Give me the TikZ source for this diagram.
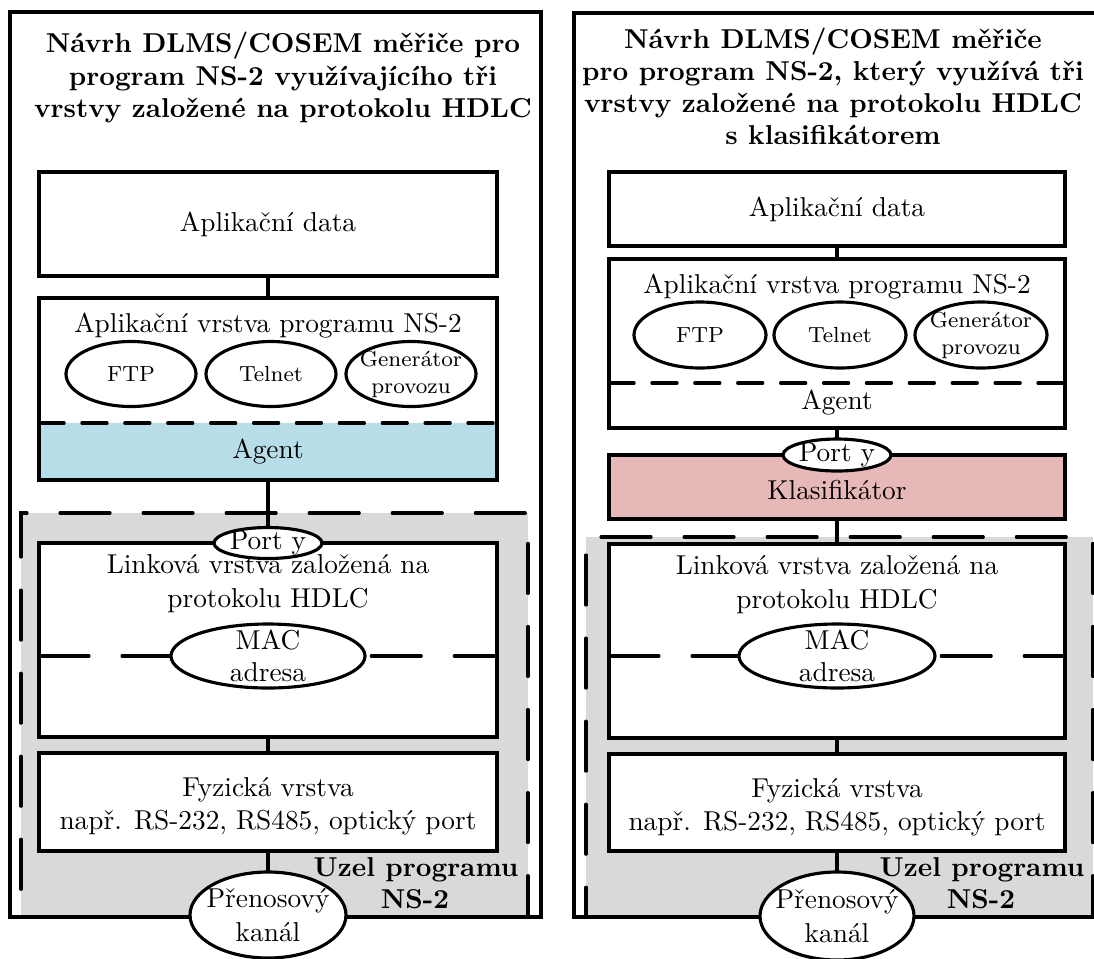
\documentclass[tikz,border=0pt]{standalone}
\usetikzlibrary{shapes.geometric,fit}
\definecolor{agentblue}{HTML}{B7DEE8}
\definecolor{klaspink}{HTML}{E6B8B7}
\definecolor{nodegray}{HTML}{D9D9D9}
\tikzset{
  lw/.style={line width=1.15pt},
  frame/.style={draw, lw, inner sep=0, outer sep=0},
  layer/.style={draw, lw, fill=white, inner sep=0, outer sep=0},
  region/.style={fill=nodegray, draw, lw, line cap=round, dash pattern=on 18.3pt off 12.1pt, inner sep=0, outer sep=0},
  split/.style={lw, line cap=round, dash pattern=on 9.2pt off 6.5pt},
  longsplit/.style={lw, line cap=round, dash pattern=on 18.3pt off 12.1pt},
  oval/.style 2 args={ellipse, draw, lw, fill=white, inner sep=0, outer sep=0,
    minimum width=#1*0.366pt, minimum height=#2*0.366pt},
  txt/.style={anchor=base, inner sep=0, font=\fontsize{10}{12}\selectfont},
  ttl/.style={anchor=base, inner sep=0, font=\fontsize{10}{12}\selectfont\bfseries},
  lbl/.style={inner sep=0, align=center, font=\fontsize{10}{12}\selectfont},
  sm/.style={inner sep=0, align=center, font=\fontsize{8}{9.9}\selectfont},
  conn/.style={lw},
}
\begin{document}
\begin{tikzpicture}[x=0.366pt, y=-0.366pt]
\useasboundingbox (0,0) rectangle (1094,958);
\clip (0,0) rectangle (1094,958);

% ---------------- left stack: three layers over HDLC ----------------
\node[region, fit={(21,513)(528,917)}] (lnode) {};
\node[layer, fit={(39,172)(497,276)}] (ldata) {};
\node[lbl] (ldatat) at (ldata) {Aplikační data};
\node[fill=agentblue, inner sep=0, outer sep=0, fit={(39,423)(497,480)}] (lagent) {};
\node[layer, fill=none, fit={(39,298)(497,480)}] (lapp) {};
\draw[split] (lapp.west |- lagent.north) -- (lapp.east |- lagent.north);
\node[lbl] (lagentt) at (268,452) {Agent};
\node[txt] (lappt) at (268,332) {Aplikační vrstva programu NS-2};

\node[layer, fit={(39,543)(497,737)}] (llink) {};
\node[txt] (llinkt1) at (268,573) {Linková vrstva založená na};
\node[txt] (llinkt2) at (268,607) {protokolu HDLC};
\coordinate (lmacc) at (268,656);
\draw[longsplit] (llink.west |- lmacc) -- (llink.east |- lmacc);

\node[layer, fit={(39,753)(497,851)}] (lphys) {};
\node[txt] (lphyst1) at (268,796) {Fyzická vrstva};
\node[txt] (lphyst2) at (268,829) {např. RS-232, RS485, optický port};

\node[frame, fit={(10,12)(541,917)}] (lframe) {};
\node[ttl] (ltitle1) at (283,52) {Návrh DLMS/COSEM měřiče pro};
\node[ttl] (ltitle2) at (283,85) {program NS-2 využívajícího tři};
\node[ttl] (ltitle3) at (283,117) {vrstvy založené na protokolu HDLC};
\node[ttl] (lnodet1) at (416,876) {Uzel programu};
\node[ttl] (lnodet2) at (415,908) {NS-2};

\node[oval={130}{65}] (lftp) at (131,374) {};
\node[sm] at (lftp) {FTP};
\node[oval={130}{65}] (ltel) at (271,374) {};
\node[sm] at (ltel) {Telnet};
\node[oval={130}{65}] (lgen) at (411,374) {};
\node[sm] at (lgen) {Generátor\\provozu};
\node[oval={108}{31}] (lport) at (268,543) {};
\node[lbl] at (lport) {Port y};
\node[oval={194}{64}] (lmac) at (lmacc) {};
\node[lbl, font=\fontsize{10}{11.7}\selectfont] at (lmac) {MAC\\adresa};
\node[oval={156}{86}] (lchan) at (268,915) {};
\node[lbl, font=\fontsize{10}{12.4}\selectfont] at (lchan) {Přenosový\\kanál};

\draw[conn] (ldata.south) -- (lapp.north);
\draw[conn] (lapp.south) -- (lport.north);
\draw[conn] (llink.south) -- (lphys.north);
\draw[conn] (lphys.south) -- (lchan.north);

% ---------------- right stack: with classifier ----------------
\node[region, fit={(586,537)(1093,917)}] (rnode) {};
\node[layer, fit={(609,172)(1065,246)}] (rdata) {};
\node[lbl] (rdatat) at (rdata) {Aplikační data};
\node[layer, fit={(609,259)(1065,428)}] (rapp) {};
\coordinate (rsplit) at (837,383);
\draw[split] (rapp.west |- rsplit) -- (rapp.east |- rsplit);
\node[txt] (rappt) at (837,293) {Aplikační vrstva programu NS-2};
\node[lbl] (ragentt) at (837,403) {Agent};
\node[layer, fill=klaspink, fit={(609,455)(1065,519)}] (rklas) {};
\node[lbl] (rklast) at (837,490) {Klasifikátor};

\node[layer, fit={(609,544)(1065,738)}] (rlink) {};
\node[txt] (rlinkt1) at (837,574) {Linková vrstva založená na};
\node[txt] (rlinkt2) at (837,608) {protokolu HDLC};
\coordinate (rmacc) at (837,656);
\draw[longsplit] (rlink.west |- rmacc) -- (rlink.east |- rmacc);

\node[layer, fit={(609,754)(1065,851)}] (rphys) {};
\node[txt] (rphyst1) at (837,797) {Fyzická vrstva};
\node[txt] (rphyst2) at (837,830) {např. RS-232, RS485, optický port};

\node[frame, fit={(574,13)(1110,917)}] (rframe) {};
\node[ttl] (rtitle1) at (833,48) {Návrh DLMS/COSEM měřiče};
\node[ttl] (rtitle2) at (833,80) {pro program NS-2, který využívá tři};
\node[ttl] (rtitle3) at (833,112) {vrstvy založené na protokolu HDLC};
\node[ttl] (rtitle4) at (833,144) {s klasifikátorem};
\node[ttl] (rnodet1) at (982,876) {Uzel programu};
\node[ttl] (rnodet2) at (981,908) {NS-2};

\node[oval={132}{66}] (rftp) at (700,335) {};
\node[sm] at (rftp) {FTP};
\node[oval={132}{66}] (rtel) at (840,335) {};
\node[sm] at (rtel) {Telnet};
\node[oval={132}{66}] (rgen) at (981,335) {};
\node[sm] at (rgen) {Generátor\\provozu};
\node[oval={108}{32}] (rport) at (837,455) {};
\node[lbl] at (rport) {Port y};
\node[oval={196}{64}] (rmac) at (rmacc) {};
\node[lbl, font=\fontsize{10}{11.7}\selectfont] at (rmac) {MAC\\adresa};
\node[oval={154}{88}] (rchan) at (837,916) {};
\node[lbl, font=\fontsize{10}{12.4}\selectfont] at (rchan) {Přenosový\\kanál};

\draw[conn] (rdata.south) -- (rapp.north);
\draw[conn] (rapp.south) -- (rport.north);
\draw[conn] (rklas.south) -- (rlink.north);
\draw[conn] (rlink.south) -- (rphys.north);
\draw[conn] (rphys.south) -- (rchan.north);
\end{tikzpicture}
\end{document}
